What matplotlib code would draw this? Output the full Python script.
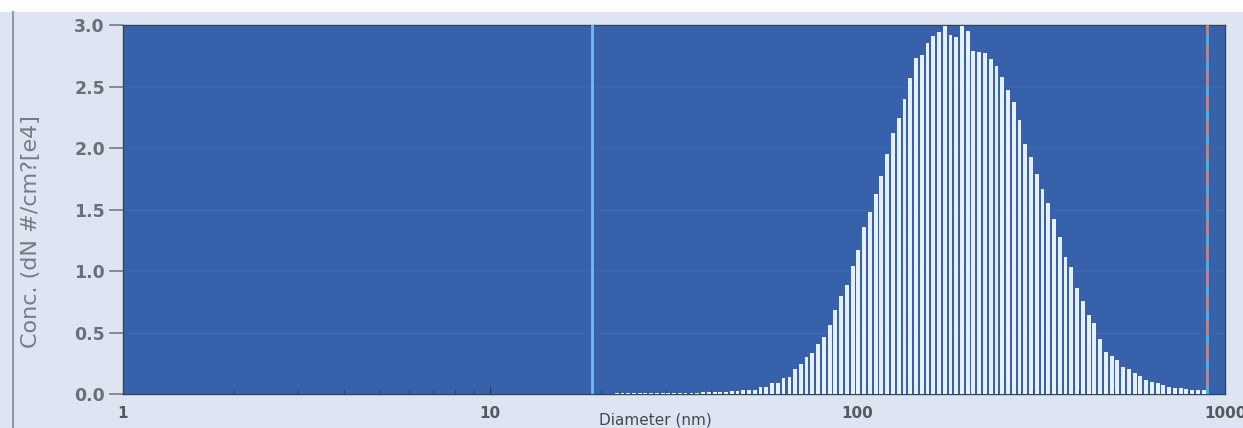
import matplotlib
matplotlib.use("Agg")
import matplotlib.pyplot as plt
from matplotlib.patches import Rectangle
from matplotlib.lines import Line2D
from matplotlib.ticker import FixedLocator, LogLocator, NullFormatter

# ============================================================
# DONNEES
# ============================================================

# Centres des classes en nm (pas logarithmique constant)
DIAMETRES = [
    22.1, 22.9, 23.7, 24.6, 25.5, 26.4, 27.4, 28.4, 29.5, 30.5,
    31.7, 32.8, 34.0, 35.3, 36.6, 37.9, 39.3, 40.8, 42.3, 43.8,
    45.4, 47.1, 48.8, 50.6, 52.5, 54.4, 56.4, 58.5, 60.6, 62.8,
    65.2, 67.5, 70.0, 72.6, 75.3, 78.0, 80.9, 83.9, 86.9, 90.1,
    93.5, 96.9, 100.4, 104.1, 108.0, 111.9, 116.0, 120.3, 124.7, 129.3,
    134.1, 139.0, 144.1, 149.4, 154.9, 160.5, 166.4, 172.6, 178.9, 185.5,
    192.3, 199.3, 206.6, 214.2, 222.1, 230.3, 238.7, 247.5, 256.6, 266.0,
    275.8, 286.0, 296.5, 307.4, 318.6, 330.3, 342.5, 355.1, 368.1, 381.6,
    395.7, 410.3, 425.3, 440.9, 457.1, 473.9, 491.3, 509.4, 528.1, 547.5,
    567.5, 588.3, 609.9, 632.3, 655.5, 679.6, 704.6, 730.5, 757.3, 785.1,
    814.2, 844.1, 875.1,
]

# Concentration (dN #/cm3 [e4])
CONCENTRATIONS = [
    0.005, 0.005, 0.006, 0.006, 0.007, 0.007, 0.008, 0.008, 0.008, 0.009,
    0.009, 0.010, 0.010, 0.011, 0.012, 0.013, 0.014, 0.016, 0.018, 0.020,
    0.022, 0.025, 0.03, 0.03, 0.03, 0.06, 0.06, 0.09, 0.09, 0.13,
    0.14, 0.20, 0.24, 0.30, 0.33, 0.41, 0.46, 0.56, 0.68, 0.80,
    0.89, 1.04, 1.17, 1.36, 1.48, 1.63, 1.77, 1.95, 2.12, 2.24,
    2.40, 2.57, 2.73, 2.76, 2.85, 2.91, 2.94, 2.99, 2.92, 2.90,
    2.99, 2.95, 2.79, 2.78, 2.77, 2.72, 2.67, 2.58, 2.47, 2.37,
    2.23, 2.03, 1.93, 1.79, 1.67, 1.55, 1.42, 1.28, 1.11, 1.03,
    0.86, 0.76, 0.64, 0.58, 0.45, 0.34, 0.31, 0.28, 0.22, 0.20,
    0.17, 0.15, 0.11, 0.10, 0.09, 0.07, 0.06, 0.05, 0.05, 0.04,
    0.035, 0.03, 0.03,
]

TICKS_X = [1, 10, 100, 1000]
LABELS_X = ["1", "10", "100", "1000"]
TICKS_Y = [0.0, 0.5, 1.0, 1.5, 2.0, 2.5, 3.0]
LABELS_Y = ["0.0", "0.5", "1.0", "1.5", "2.0", "2.5", "3.0"]

# Curseurs verticaux (nm) : borne basse, borne haute
CURSEUR_BAS = 18.9
CURSEUR_HAUT = 893.0

# ============================================================
# COULEURS
# ============================================================

COULEUR_FOND = "#dce5f1"
COULEUR_AXES = "#3861ab"
COULEUR_BARRES = "#e6f0fb"
COULEUR_TEXTE = "#6b6f78"

LARGEUR_PX = 1243
HAUTEUR_PX = 428


def px_x(x):
    return x / LARGEUR_PX


def px_y(y):
    # y compte depuis le haut de l'image
    return 1 - y / HAUTEUR_PX


# ============================================================
# FIGURE
# ============================================================

def tracer():
    fig = plt.figure(figsize=(LARGEUR_PX / 100, HAUTEUR_PX / 100), dpi=100)
    fig.patch.set_facecolor("white")

    # fond gris-bleu de la fenetre (bande blanche en haut)
    fig.patches.append(Rectangle((0, 0), 1, px_y(12), transform=fig.transFigure,
                                 color=COULEUR_FOND, zorder=-10))
    fig.lines.append(Line2D([px_x(12.5), px_x(12.5)], [0, px_y(12)],
                            transform=fig.transFigure, color="#8e99aa", lw=1.5))

    gauche, droite = px_x(123), px_x(1225)
    haut, bas = px_y(25), px_y(394)
    ax = fig.add_axes([gauche, bas, droite - gauche, haut - bas])
    ax.set_facecolor(COULEUR_AXES)

    # barres : largeur ~65 % du pas logarithmique
    largeurs = [d * 0.024 for d in DIAMETRES]
    ax.bar(DIAMETRES, CONCENTRATIONS, width=largeurs, align="center",
           color=COULEUR_BARRES, linewidth=0, zorder=3)

    # curseurs
    ax.axvline(CURSEUR_BAS, color="#6cc0ec", lw=2.0, zorder=4)
    ax.axvline(CURSEUR_HAUT, color="#b38a93", lw=2.0, zorder=4)
    ax.axvline(CURSEUR_HAUT, color="#3eb4ea", lw=2.0, zorder=5,
               linestyle=(0, (3, 6)))

    ax.set_xscale("log")
    ax.set_xlim(1, 1000)
    ax.set_ylim(0, 3.0)

    # grille tres discrete
    for yv in TICKS_Y[1:-1]:
        ax.axhline(yv, color="#5476ba", lw=0.8, alpha=0.35, zorder=1)

    ax.xaxis.set_major_locator(FixedLocator(TICKS_X))
    ax.set_xticklabels(LABELS_X)
    ax.xaxis.set_minor_locator(LogLocator(base=10, subs=range(2, 10)))
    ax.xaxis.set_minor_formatter(NullFormatter())
    ax.tick_params(axis="x", which="major", direction="in", length=5,
                   color="#1f3560", pad=9, labelsize=11, labelcolor="#55585f")
    ax.tick_params(axis="x", which="minor", direction="in", length=3,
                   color="#1f3560")
    for t in ax.get_xticklabels():
        t.set_fontweight("bold")

    ax.set_yticks(TICKS_Y)
    ax.set_yticklabels(LABELS_Y)
    ax.tick_params(axis="y", direction="out", length=10, width=1.2,
                   color="#777b84", pad=3, labelsize=12.5, labelcolor=COULEUR_TEXTE)
    for t in ax.get_yticklabels():
        t.set_fontweight("bold")

    for sp in ax.spines.values():
        sp.set_color("#3b4455")
        sp.set_linewidth(1.0)

    ax.set_xlabel("Diameter (nm)", fontsize=11, color="#45484f")
    ax.xaxis.set_label_coords((655 - 123) / 1102, -0.05)
    ax.set_ylabel("Conc. (dN #/cm?[e4]", fontsize=16, color="#777b84")
    ax.yaxis.set_label_coords((41 - 123) / 1102, 0.44)

    fig.savefig("out.png", dpi=100, facecolor=fig.get_facecolor())
    plt.close(fig)


def main():
    tracer()


if __name__ == "__main__":
    main()
